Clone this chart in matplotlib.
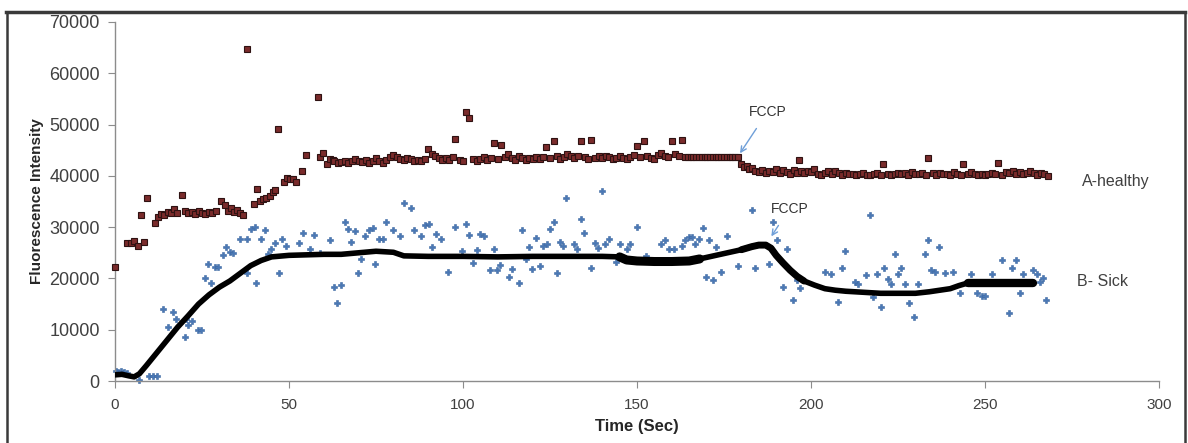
import matplotlib
matplotlib.use("Agg")
import matplotlib.pyplot as plt
from matplotlib.lines import Line2D
import numpy as np

plt.rcParams['font.family'] = ['Liberation Sans', 'DejaVu Sans']

# ---------------- data ----------------
# A-healthy (maroon squares)
healthy_t = [0, 3.5, 4.5, 5.5, 6.5, 7.5, 8.3, 9.2, 11.5, 12.4, 13.3, 14.2, 15.1, 16.0, 16.9, 17.8,
             19.2, 20.1, 21.0, 22.0, 23.0, 24.0, 25.0, 26.0, 27.0, 28.0, 29.0, 30.6, 31.5, 32.4,
             33.3, 34.2, 35.1, 36.0, 36.9, 38.0, 39.9, 40.8, 41.7, 42.6, 43.5, 44.4, 45.3, 46.0,
             46.9, 48.7, 49.5, 50.3, 51.2, 52.1, 53.8, 54.9, 58.2, 59.0, 59.8, 60.8, 61.7, 62.6,
             63, 64, 65, 66, 67, 68, 69, 70, 71, 72, 73, 74, 75, 76, 77, 78, 79, 80, 81, 82, 83,
             84, 85, 86, 87, 88, 89, 90, 91, 92, 93, 94, 95, 96, 97, 97.8, 99, 100, 100.8, 101.8,
             103, 104, 105, 106, 107, 108, 109, 110, 110.9, 112, 113, 114, 115, 116, 117, 118,
             119, 120, 121, 122, 123, 123.8, 125, 126.2, 127, 128, 129, 130, 131, 132, 133, 133.8,
             135, 136, 136.9, 138, 139, 140, 141, 142, 143, 144, 145, 146, 147, 148, 149, 150,
             151, 152, 153, 154, 155, 156, 157, 158, 159, 160.1, 161, 162, 163,
             163.8, 164.6, 165.4, 166.2, 167.0, 167.8, 168.6, 169.4, 170.2, 171.0, 171.8, 172.6,
             173.4, 174.2, 175.0, 175.8, 176.6, 177.4, 178.2, 179.0,
             179.9, 180.7, 181.5, 182.3, 183.1, 184, 185, 186, 187, 188, 189, 190, 191, 192, 193,
             194, 195, 196, 196.6, 197, 198, 199, 200, 201, 202, 203, 204, 205, 206, 207, 208,
             209, 210, 211, 212, 213, 214, 215, 216, 217, 218, 219, 220, 220.8, 222, 223, 224,
             225, 226, 227, 228, 229, 230, 231, 232, 233, 233.7, 235, 236, 237, 238, 239, 240,
             241, 242, 243, 243.8, 245, 246, 247, 248, 249, 250, 251, 252, 253, 253.8, 255, 256,
             257, 258, 259, 260, 261, 262, 263, 264, 265, 266, 267, 268]
healthy_v = [22200, 27000, 26900, 27300, 26400, 32300, 27200, 35700, 30900, 32000, 32600, 32300,
             33000, 32800, 33500, 32700, 36300, 33200, 32800, 33000, 32600, 33100, 32800, 32500,
             33000, 32700, 33200, 35000, 34300, 33200, 33800, 33000, 33300, 32700, 32300, 64800,
             34600, 37400, 35000, 35500, 35700, 36000, 36800, 37300, 49200, 38800, 39500, 39300,
             39400, 38800, 40900, 44100, 55400, 43700, 44500, 42300, 43300, 43000,
             42800, 42500, 42700, 42900, 42600, 42800, 43200, 42900, 42700, 43000, 42600, 42800,
             43400, 42900, 42600, 43000, 43600, 44000, 43700, 43300, 43000, 43500, 43200, 42800,
             43100, 42900, 43300, 45300, 44200, 43800, 43500, 43100, 43400, 43000, 43600, 47200,
             43000, 42900, 52500, 51300, 43200, 42900, 43300, 43600, 43100, 43400, 46400, 43200,
             46100, 43600, 44200, 43500, 43100, 43800, 43400, 43000, 43500, 43200, 43700, 43300,
             43600, 45600, 43400, 46700, 43900, 43200, 43600, 44300, 43800, 43500, 43900, 46700,
             43600, 43300, 46900, 43500, 43800, 43400, 43900, 43600, 43200, 43500, 43800, 43400,
             43300, 43700, 44000, 45800, 43600, 46700, 43800, 43400, 43300, 44100, 44400, 43900,
             43600, 46700, 44200, 43800, 46900,
             43700, 43700, 43700, 43700, 43700, 43700, 43700, 43700, 43700, 43700, 43700, 43700,
             43700, 43700, 43700, 43700, 43700, 43700, 43700, 43700,
             42300, 41800, 42000, 41400, 41600, 41000, 40800, 41200, 40600, 41000, 40700, 41300,
             40500, 41100, 40800, 40400, 41200, 40600, 43000, 40900, 40500, 41000, 40700, 41300,
             40400, 40200, 40600, 40900, 40300, 41000, 40600, 40200, 40500, 40300, 40400, 40200,
             40300, 40500, 40200, 40100, 40400, 40600, 40200, 42400, 40300, 40100, 40400, 40600,
             40300, 40500, 40200, 40700, 40400, 40300, 40600, 40200, 43500, 40500, 40100, 40600,
             40300, 40400, 40200, 40700, 40400, 40100, 42300, 40400, 40700, 40300, 40100, 40400,
             40200, 40300, 40600, 40300, 42500, 40200, 40800, 40500, 40900, 40400, 40700, 40300,
             40600, 40900, 40500, 40200, 40600, 40300, 39900]

# B- Sick, raw readings (blue plus markers)
sick_t = [0.2, 1.0, 1.8, 2.6, 3.4, 7.0, 9.8, 11.0, 12.0, 13.9, 15.3, 16.7, 17.6, 20.1, 20.5, 21.0,
          22.0, 23.9, 24.8, 25.8, 26.8, 27.7, 28.7, 29.7, 30.9, 32.0, 33.0, 34.0, 35.9, 37.8,
          38.0, 39.2, 40.1, 40.6, 42.0, 43.0, 44.0, 44.9, 45.9, 47.1, 48.1, 49.2, 52.9, 53.9,
          55.9, 57.1, 58.8, 61.7, 62.8, 63.9, 64.9, 66.0, 66.9, 67.8, 68.9, 69.8, 70.8, 71.7,
          73.0, 74.1, 74.8, 76.0, 76.9, 77.9, 80.0, 81.9, 83.0, 85.1, 86.0, 87.9, 89.2, 90.1,
          91.1, 92.1, 93.7, 95.8, 97.8, 99.7, 100.8, 101.8, 103.0, 103.9, 104.9, 106.0, 107.7,
          108.8, 109.8, 110.7, 113.1, 114.0, 116.0, 116.9, 118.0, 118.9, 119.9, 120.9, 122.1,
          123.0, 124.0, 125.0, 126.2, 126.9, 127.8, 128.6, 129.7, 131.9, 132.9, 133.8, 134.8,
          136.9, 137.9, 138.9, 139.9, 140.8, 142.0, 143.9, 145.0, 147.2, 147.9, 150.1, 152.5,
          156.8, 158.0, 159.1, 160.6, 162.8, 163.7, 164.9, 165.8, 166.8, 167.7, 168.9, 169.7,
          170.8, 171.8, 172.8, 174.0, 175.9, 179.1, 183.0, 184.0, 188.0, 189.0, 190.2, 191.9,
          193.0, 194.8, 196.0, 196.9, 203.9, 205.8, 207.9, 208.9, 209.8, 212.7, 213.6, 215.7,
          217.0, 217.9, 218.9, 220.1, 221.0, 222.0, 223.0, 224.0, 224.9, 226.0, 227.0, 228.2,
          229.6, 230.7, 232.8, 233.7, 234.6, 235.6, 236.8, 238.6, 240.8, 242.8, 246.0, 247.8,
          249.0, 250.0, 251.9, 255.0, 256.9, 257.8, 259.0, 260.0, 260.9, 263.8, 264.8, 265.7,
          266.7, 267.6]
sick_v = [1900, 1700, 2000, 1800, 1500, 200, 1000, 1000, 1000, 14000, 10600, 13400, 12000, 8600,
          12000, 11000, 11700, 9950, 9950, 20000, 22800, 19100, 22300, 22300, 24600, 26200, 25200,
          25000, 27700, 21000, 27700, 29600, 30100, 19200, 27700, 29500, 24700, 25700, 27000,
          21100, 27600, 26300, 26900, 28800, 25700, 28500, 24900, 27500, 18300, 15300, 18800,
          31100, 29600, 27100, 29300, 21100, 23800, 28200, 29500, 29800, 22850, 27700, 27700,
          31100, 29500, 28300, 34800, 33800, 29500, 28300, 30500, 30600, 26200, 28600, 27700,
          21200, 30100, 25400, 30600, 28500, 23000, 25600, 28600, 28300, 21700, 25800, 21700,
          22600, 20200, 21900, 19100, 29500, 23700, 26200, 21900, 27900, 22500, 26300, 26700,
          29700, 31000, 21000, 27200, 26400, 35700, 26700, 25800, 31600, 28900, 22100, 27000,
          25900, 37100, 26800, 27700, 23200, 26800, 25800, 26700, 30100, 24300, 26800, 27500,
          25800, 25800, 26400, 27500, 28000, 28000, 26700, 27700, 29800, 20200, 27400, 19700,
          26200, 21300, 28300, 22400, 33400, 22100, 22800, 31100, 27400, 18400, 25700, 15800,
          19700, 18200, 21200, 20800, 15500, 22100, 25400, 19300, 18900, 20600, 32300, 16300,
          20800, 14500, 22100, 19900, 19000, 24800, 20800, 22100, 19000, 15200, 12400, 19000,
          24800, 27400, 21600, 21200, 26200, 21000, 21200, 17100, 20800, 17100, 16500, 16500,
          20800, 23500, 13200, 22100, 23600, 17100, 20800, 21700, 20800, 19300, 20000, 15800]

# B- Sick, dense trace (black)
trace_t = [0, 2, 4, 5.5, 7, 9, 12, 15, 18, 21, 24, 27, 30, 33, 36, 39, 42, 45, 50, 55, 60, 65,
           70, 75, 80, 83, 90, 100, 110, 120, 130, 140, 145, 147, 150, 155, 160, 165, 168, 172,
           176, 180, 183, 185, 187, 188.5, 190, 192, 194, 196, 198, 201, 204, 207, 210, 215, 220,
           225, 230, 234, 237, 240, 242.5, 245, 248, 252, 256, 260, 263.8]
trace_v = [1200, 1300, 1000, 800, 1400, 3000, 5500, 8000, 10500, 12700, 15000, 16800, 18300,
           19500, 21000, 22500, 23500, 24200, 24500, 24600, 24700, 24700, 25000, 25300, 25100,
           24400, 24300, 24300, 24200, 24300, 24300, 24300, 24200, 23600, 23400, 23300, 23300,
           23400, 23800, 24400, 25000, 25600, 26200, 26500, 26500, 25900, 24500, 23000, 21600,
           20400, 19500, 18700, 18000, 17700, 17500, 17300, 17100, 17100, 17100, 17400, 17700,
           18000, 18600, 19100, 19100, 19100, 19100, 19100, 19100]

fccp_text = "FCCP"
label_a = "A-healthy"
label_b = "B- Sick"

# ---------------- figure ----------------
W, H = 1188, 443
fig = plt.figure(figsize=(W / 100, H / 100), dpi=100)
ax = fig.add_axes([115 / W, 1 - 381 / H, (1159 - 115) / W, (381 - 22) / H])

tc = np.array(trace_t)
tv = np.array(trace_v)
ax.plot(tc, tv, color='black', lw=4.0, solid_capstyle='round', zorder=3)
thick = (tc >= 145) & (tc <= 170)
ax.plot(tc[thick], tv[thick], color='black', lw=6.5, solid_capstyle='round', zorder=3)
thick2 = (tc >= 244)
ax.plot(tc[thick2], tv[thick2], color='black', lw=6.0, solid_capstyle='round', zorder=3)
thick3 = (tc >= 180) & (tc <= 200)
ax.plot(tc[thick3], tv[thick3], color='black', lw=5.0, solid_capstyle='round', zorder=3)

ax.plot(sick_t, sick_v, linestyle='none', marker='P', ms=4.0, mfc='#4a78b5',
        mec='#3a66a0', mew=0.4, zorder=2, clip_on=False)
ax.plot(healthy_t, healthy_v, linestyle='none', marker='s', ms=4.6, mfc='#7a2b2b',
        mec='#2e1212', mew=0.8, zorder=4, clip_on=False)

ax.set_xlim(0, 300)
ax.set_ylim(0, 70000)
ax.set_xticks(np.arange(0, 301, 50))
ax.set_yticks(np.arange(0, 70001, 10000))
for s in ['top', 'right']:
    ax.spines[s].set_visible(False)
for s in ['left', 'bottom']:
    ax.spines[s].set_color('#8c8c8c')
    ax.spines[s].set_linewidth(1.0)
ax.tick_params(axis='y', length=5, color='#8c8c8c', labelsize=13, labelcolor='#404040', pad=6)
ax.tick_params(axis='x', length=5, color='#8c8c8c', labelsize=11, labelcolor='#404040', pad=7)

ax.set_ylabel('Fluorescence Intensity', fontsize=11, fontweight='bold', color='#262626', labelpad=4)
ax.set_xlabel('Time (Sec)', fontsize=12, fontweight='bold', color='#262626', labelpad=5)

# annotations
ax.annotate(fccp_text, xy=(179.6, 44400), xytext=(187.5, 52500), fontsize=10, color='#333333',
            ha='center', va='center',
            arrowprops=dict(arrowstyle='->', color='#6f9fd8', lw=1.0, shrinkA=6, shrinkB=0))
ax.annotate(fccp_text, xy=(188.6, 28200), xytext=(193.8, 33600), fontsize=10, color='#333333',
            ha='center', va='center',
            arrowprops=dict(arrowstyle='->', color='#6f9fd8', lw=1.0, shrinkA=6, shrinkB=0))

ax.text(278, 38900, label_a, fontsize=11.5, color='#404040', ha='left', va='center', clip_on=False)
ax.text(276.5, 19400, label_b, fontsize=11.5, color='#404040', ha='left', va='center', clip_on=False)

# outer frame
fc = '#3a3a3a'
fig.add_artist(Line2D([6 / W, 1185 / W], [1 - 12 / H, 1 - 12 / H], transform=fig.transFigure,
                      color=fc, lw=2.5))
fig.add_artist(Line2D([7 / W, 7 / W], [0, 1 - 12 / H], transform=fig.transFigure, color=fc, lw=1.8))
fig.add_artist(Line2D([1184.5 / W, 1184.5 / W], [0, 1 - 12 / H], transform=fig.transFigure,
                      color=fc, lw=1.8))

fig.savefig('out.png', dpi=100)
